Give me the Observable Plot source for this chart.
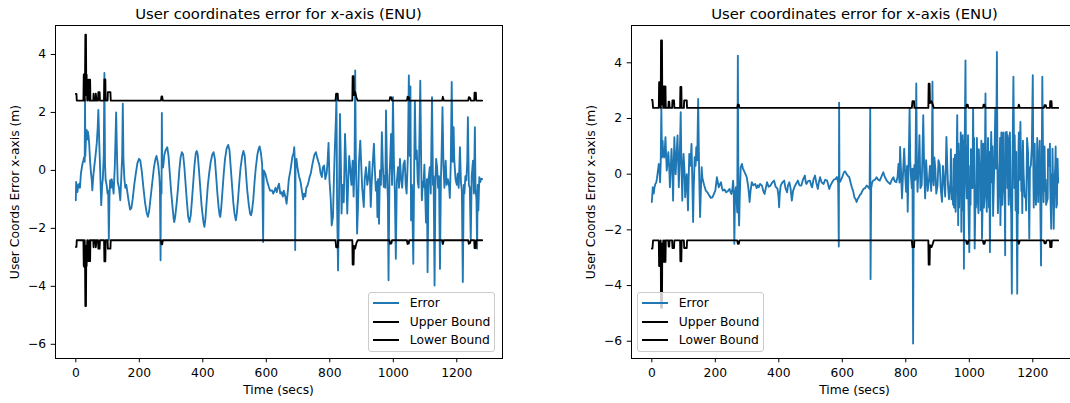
<!DOCTYPE html>
<html><head><meta charset="utf-8">
<script src="https://cdn.jsdelivr.net/npm/d3@7"></script>
<script src="https://cdn.jsdelivr.net/npm/@observablehq/plot@0.6"></script>
<style>
html,body{margin:0;padding:0;background:#fff;overflow:hidden;}
#fig{position:relative;width:1070px;height:403px;overflow:hidden;font-family:"DejaVu Sans",sans-serif;color:#000;background:#fff;}
#fig svg{position:absolute;top:0;}
.abs{position:absolute;white-space:nowrap;line-height:1;}
.title{font-size:14.8px;transform:translate(-50%,-50%);}
.lab{font-size:12.3px;transform:translate(-50%,-50%);}
.ylab{font-size:12.3px;transform:translate(-50%,-50%) rotate(-90deg);}
.legend{position:absolute;box-sizing:border-box;border:1px solid #ccc;border-radius:3px;background:rgba(255,255,255,0.8);}
.legline{position:absolute;height:1.85px;width:26px;}
.legtext{position:absolute;font-size:12.3px;line-height:1;white-space:nowrap;transform:translateY(-50%);}
</style>
</head><body><div id="fig"></div>
<script>
const xTicks = [0,200,400,600,800,1000,1200];
const yTicks = [-6,-4,-2,0,2,4];
const seriesNames = ["Error","Upper Bound","Lower Bound"];
const seriesColors = ["#1f77b4","#000000","#000000"];
const titleText = "User coordinates error for x-axis (ENU)";
const xLabel = "Time (secs)";
const yLabel = "User Coords Error x-axis (m)";

// [time (s), value (m)]
const leftError = [[0,-1.03],[1,-0.4],[3,-0.55],[5,-0.75],[8,-0.5],[11,-0.46],[13,-0.6],[16,-0.11],[19,0.1],[21,0.23],[24,0.35],[26,0.46],[28,0.3],[29,2.45],[30,0.5],[32,1.1],[34,1.4],[36,1.06],[38,1.34],[40,1.2],[42,0.94],[45,0.3],[48,-0.11],[50,-0.3],[52,-0.69],[55,-0.2],[58,0.11],[62,0.5],[66,0.94],[69,1.5],[71,2.09],[74,0.9],[77,-0.11],[80,-1.2],[83,-0.5],[85,-0.3],[88,0.5],[90,3.36],[92,0.2],[94,-0.34],[97,-0.5],[100,-0.8],[102,-0.7],[104,-2.4],[106,-0.9],[108,-0.34],[111,-0.6],[113,-0.3],[116,-0.5],[119,-0.8],[123,0.2],[127,2.0],[130,0.4],[132,-0.4],[136,-0.6],[140,-1.03],[143,-0.3],[146,0.5],[148,2.3],[150,0.4],[153,-0.3],[156,-0.6],[159,-0.5],[163,-0.8],[167,-1.1],[171,-1.35],[175,-1.3],[179,-1.0],[184,-0.5],[189,-0.1],[194,0.25],[199,0.4],[203,0.35],[208,-0.05],[213,-0.6],[218,-1.1],[223,-1.45],[227,-1.6],[231,-1.4],[236,-0.9],[241,-0.4],[246,0.1],[251,0.4],[254,0.5],[257,0.35],[260,0.15],[263,-0.2],[265,-0.6],[267,-3.1],[268,-0.4],[270,-0.8],[271,1.98],[272,0.3],[275,0.1],[279,0.55],[283,0.7],[288,0.8],[292,0.5],[296,-0.1],[300,-0.7],[305,-1.3],[308,-1.65],[310,-1.78],[313,-1.6],[317,-1.2],[322,-0.6],[326,0],[330,0.45],[334,0.63],[338,0.55],[342,0.1],[346,-0.5],[350,-1.1],[354,-1.6],[358,-1.78],[362,-1.55],[366,-1.0],[370,-0.4],[374,0.2],[378,0.6],[381,0.67],[384,0.55],[388,0.0],[392,-0.6],[396,-1.2],[400,-1.6],[403,-1.85],[405,-1.95],[408,-1.7],[412,-1.1],[416,-0.5],[420,-0.1],[425,0.3],[430,0.55],[434,0.63],[438,0.4],[442,-0.2],[446,-0.8],[450,-1.3],[453,-1.55],[455,-1.6],[458,-1.3],[462,-0.7],[466,-0.1],[470,0.4],[475,0.75],[480,0.88],[484,0.7],[488,0.1],[492,-0.5],[496,-1.1],[500,-1.5],[504,-1.72],[507,-1.5],[511,-1.0],[515,-0.4],[519,0.1],[524,0.5],[528,0.67],[532,0.5],[536,-0.1],[540,-0.7],[545,-1.2],[549,-1.5],[552,-1.55],[555,-1.4],[559,-1.0],[563,-0.4],[567,0.1],[572,0.55],[576,0.75],[579,0.83],[583,0.6],[587,0.2],[590,-2.47],[592,0.0],[597,-0.11],[602,-0.35],[608,-0.57],[612,-0.7],[618,-0.69],[622,-0.8],[626,-0.7],[629,-0.6],[633,-0.75],[637,-0.55],[640,-0.46],[644,-0.8],[648,-0.75],[652,-0.9],[655,-0.7],[660,-0.9],[664,-1.15],[668,-0.7],[671,-0.3],[676,0.0],[682,0.46],[686,0.6],[688,0.8],[690,0.3],[691,-2.75],[692,0.2],[695,0.4],[698,0.1],[703,-0.2],[708,-0.4],[712,-0.7],[716,-1.0],[719,-0.8],[723,-0.9],[726,-0.6],[729,-0.55],[733,-0.4],[737,-0.2],[740,-0.11],[745,0.2],[751,0.52],[756,0.63],[760,0.45],[764,0.3],[767,0.2],[771,-0.1],[775,-0.23],[778,0.1],[782,0.17],[786,-0.3],[790,-0.1],[793,0.3],[796,0.95],[799,-0.34],[803,-1.0],[806,-1.9],[810,-1.6],[813,-0.3],[816,0.8],[819,1.7],[821,2.53],[823,-1.2],[826,-3.45],[829,-1.0],[832,1.95],[835,0.2],[837,-1.49],[840,-0.5],[844,-1.1],[848,1.26],[851,0.3],[855,-1.49],[858,-0.4],[861,0.5],[864,0.11],[868,-0.5],[872,0.34],[875,-0.9],[878,0.2],[880,3.45],[882,0.5],[884,-0.6],[886,-2.18],[889,-1.2],[892,0.3],[896,1.03],[899,0.2],[902,-0.6],[907,-1.26],[910,-0.3],[914,0.11],[918,-0.5],[922,-0.2],[925,0.3],[929,-1.26],[932,-0.4],[935,0.2],[939,0.92],[942,0.0],[945,-0.7],[948,-0.4],[950,-1.61],[952,-0.3],[955,-1.84],[958,0.0],[961,-0.5],[964,1.32],[967,0.2],[970,-0.57],[972,-0.2],[975,-0.6],[977,2.07],[980,0.1],[983,-1.0],[985,-3.79],[988,-0.2],[990,0.3],[993,1.26],[996,-0.5],[999,2.53],[1002,0.3],[1005,-0.8],[1008,-3.05],[1011,-0.4],[1015,0.11],[1018,-0.6],[1021,0.4],[1025,-0.34],[1028,-0.6],[1032,0.2],[1036,0.34],[1039,-0.5],[1042,-0.8],[1046,0.5],[1049,3.28],[1052,0.5],[1054,2.9],[1056,-1.72],[1059,-0.5],[1063,-3.22],[1066,0.2],[1068,2.41],[1071,0.4],[1074,0.69],[1077,-0.4],[1080,-0.6],[1085,3.1],[1088,0.1],[1090,-1.03],[1093,-0.4],[1095,-0.57],[1098,0.2],[1100,-0.6],[1103,-1.8],[1106,-0.3],[1108,-3.51],[1111,-0.3],[1115,0.11],[1118,-0.8],[1122,2.53],[1125,-0.5],[1127,-0.2],[1130,-3.97],[1133,-0.3],[1135,0.4],[1138,0.11],[1141,-0.6],[1144,-0.2],[1147,-3.4],[1150,-0.3],[1152,0.5],[1155,2.18],[1158,0.2],[1161,-0.6],[1165,0.34],[1168,-0.5],[1172,-0.3],[1176,-0.57],[1178,-0.95],[1181,0.2],[1184,3.05],[1187,0.3],[1190,1.49],[1192,0.4],[1196,-0.3],[1200,-0.5],[1203,-0.11],[1206,-0.6],[1210,0.8],[1213,-0.4],[1216,-0.7],[1219,-3.85],[1222,-0.5],[1224,-0.8],[1227,-0.2],[1230,-0.34],[1233,0.3],[1235,1.84],[1238,-0.5],[1241,-0.6],[1244,-2.41],[1247,-0.2],[1251,0.34],[1254,-0.8],[1257,1.49],[1259,-0.6],[1262,-1.03],[1264,-2.7],[1266,-0.5],[1268,-1.38],[1271,-0.23],[1274,-0.4],[1277,-0.29],[1280,-0.3]];

const leftUpper = [[0,2.64],[2,2.64],[3,2.41],[24,2.41],[25,3.3],[27,3.33],[28,2.41],[29,3.0],[30,4.68],[32,4.68],[33,2.6],[34,3.3],[36,2.41],[37,3.13],[39,2.6],[40,3.13],[42,2.41],[43,3.13],[45,3.13],[46,2.41],[55,2.41],[56,2.65],[57,2.41],[62,2.41],[63,2.65],[65,2.41],[70,2.41],[71,2.7],[75,2.7],[76,2.41],[89,2.41],[90,3.14],[93,3.14],[94,2.41],[100,2.41],[101,2.7],[109,2.7],[110,2.41],[268,2.41],[270,2.55],[272,2.55],[274,2.41],[818,2.41],[820,2.65],[825,2.65],[826,2.41],[871,2.41],[872,3.25],[875,3.25],[876,2.6],[880,2.7],[884,2.5],[888,2.41],[988,2.41],[990,2.53],[994,2.52],[996,2.41],[1043,2.41],[1045,2.54],[1049,2.52],[1050,2.41],[1154,2.41],[1156,2.54],[1159,2.41],[1236,2.41],[1238,2.53],[1242,2.5],[1244,2.41],[1255,2.41],[1256,2.68],[1260,2.68],[1261,2.41],[1280,2.41]];

const leftLower = [[0,-2.64],[2,-2.64],[3,-2.41],[24,-2.41],[25,-3.3],[27,-3.33],[28,-2.41],[29,-3.0],[30,-4.68],[32,-4.68],[33,-2.6],[34,-3.3],[36,-2.41],[37,-3.13],[39,-2.6],[40,-3.13],[42,-2.41],[43,-3.13],[45,-3.13],[46,-2.41],[55,-2.41],[56,-2.65],[57,-2.41],[62,-2.41],[63,-2.65],[65,-2.41],[70,-2.41],[71,-2.7],[75,-2.7],[76,-2.41],[89,-2.41],[90,-3.14],[93,-3.14],[94,-2.41],[100,-2.41],[101,-2.7],[109,-2.7],[110,-2.41],[268,-2.41],[270,-2.55],[272,-2.55],[274,-2.41],[818,-2.41],[820,-2.65],[825,-2.65],[826,-2.41],[871,-2.41],[872,-3.25],[875,-3.25],[876,-2.6],[880,-2.7],[884,-2.5],[888,-2.41],[988,-2.41],[990,-2.53],[994,-2.52],[996,-2.41],[1043,-2.41],[1045,-2.54],[1049,-2.52],[1050,-2.41],[1154,-2.41],[1156,-2.54],[1159,-2.41],[1236,-2.41],[1238,-2.53],[1242,-2.5],[1244,-2.41],[1255,-2.41],[1256,-2.68],[1260,-2.68],[1261,-2.41],[1280,-2.41]];

const rightError = [[0,-1.0],[3,-0.47],[6,-0.7],[8,-0.5],[11,-0.35],[14,-0.3],[16,-0.17],[19,0.1],[22,0.37],[24,0.2],[26,-0.29],[28,0.4],[30,2.4],[32,0.6],[34,1.2],[36,0.7],[39,0.6],[41,0.9],[43,1.33],[45,0.7],[47,0.13],[50,0.5],[52,0.79],[55,0.2],[57,-0.47],[60,0.3],[62,0.91],[65,0.1],[67,-0.95],[69,0.3],[71,1.33],[73,0.6],[75,0],[78,0.7],[81,1.39],[83,0.5],[85,-0.47],[88,0.6],[91,2.23],[93,0.5],[96,-0.95],[98,0.2],[100,0.73],[103,0.1],[105,-0.83],[108,-0.2],[110,0],[112,-0.6],[114,-1.3],[116,-0.2],[118,0.73],[121,0.3],[123,0.6],[125,1.09],[127,0.1],[130,-1.72],[132,-0.5],[135,0.61],[138,0.3],[140,0.97],[143,0.5],[146,2.7],[149,0.1],[152,-1.54],[155,-0.4],[157,0.25],[159,-0.1],[161,-0.23],[165,-0.4],[170,-0.59],[175,-0.65],[181,-0.77],[186,-0.85],[191,-0.83],[196,-0.7],[200,-0.59],[203,-0.3],[205,-0.11],[208,-0.3],[211,-0.47],[215,-0.35],[218,-0.29],[221,-0.5],[224,-0.59],[229,-0.55],[234,-0.65],[240,-0.6],[245,-0.53],[248,-0.65],[251,-0.71],[254,-0.5],[256,-0.23],[258,-0.6],[260,-2.5],[262,-0.8],[265,-0.47],[267,-0.9],[269,-1.37],[271,4.26],[273,-1.19],[275,-1.84],[277,-0.8],[280,0.25],[284,0.37],[287,0.2],[290,0.13],[295,0.0],[299,-0.11],[303,-0.4],[306,-0.7],[308,-1.0],[311,-0.6],[315,-0.29],[320,-0.4],[326,-0.35],[330,-0.5],[334,-0.4],[337,-0.47],[341,-0.35],[347,-0.41],[351,-0.6],[355,-0.71],[359,-0.5],[363,-0.29],[368,-0.45],[374,-0.41],[379,-0.3],[385,-0.23],[390,-0.45],[396,-0.53],[399,-0.8],[401,-1.19],[403,-0.7],[406,-0.41],[411,-0.3],[417,-0.23],[421,-0.5],[426,-0.65],[429,-0.4],[433,-0.29],[437,-0.5],[441,-0.95],[445,-0.6],[449,-0.47],[454,-0.35],[460,-0.23],[465,-0.4],[471,-0.41],[476,-0.2],[482,-0.05],[485,-0.3],[487,-0.35],[492,-0.25],[498,-0.23],[502,-0.4],[505,-0.47],[509,-0.2],[514,-0.05],[518,-0.3],[523,-0.53],[526,-0.3],[530,-0.11],[535,-0.3],[541,-0.35],[546,-0.2],[552,-0.23],[556,-0.4],[559,-0.53],[563,-0.4],[568,-0.29],[573,-0.2],[579,-0.17],[583,-0.1],[587,-0.29],[589,-2.6],[590,2.57],[591,-0.3],[595,-0.23],[600,-0.1],[605,0.07],[609,0.1],[613,0.01],[617,-0.05],[622,-0.11],[626,-0.3],[630,-0.47],[634,-0.6],[638,-0.83],[642,-0.9],[645,-1.0],[648,-0.9],[652,-0.83],[655,-0.75],[659,-0.71],[663,-0.6],[667,-0.53],[672,-0.5],[677,-0.41],[681,-0.45],[686,-0.53],[688,2.39],[689,-3.77],[691,-0.5],[694,-0.3],[697,-0.23],[703,-0.2],[708,-0.11],[713,-0.2],[718,-0.23],[723,-0.1],[729,0.07],[734,-0.1],[740,-0.23],[745,-0.3],[751,-0.35],[756,-0.2],[761,-0.11],[765,-0.25],[770,-0.29],[774,-0.1],[777,0.37],[780,-0.3],[782,0.98],[785,0.1],[788,-0.87],[792,0.2],[795,0.92],[798,0.0],[801,-0.63],[804,0.3],[806,-1.35],[809,0.4],[812,2.36],[814,0.5],[816,-0.04],[819,-0.5],[821,0.2],[823,-6.08],[825,-0.3],[827,0.32],[830,-0.2],[833,3.26],[835,0.3],[837,-0.63],[840,0.2],[843,1.4],[846,-0.5],[850,-0.39],[852,0.5],[855,2.12],[858,0.1],[861,-0.87],[864,0.5],[866,0.08],[869,-0.6],[873,-0.2],[876,0.3],[880,-0.6],[882,0.4],[884,3.32],[886,-0.2],[888,-0.4],[890,0.6],[893,0.2],[896,-0.7],[900,-0.4],[903,0.5],[907,0.32],[910,-0.5],[914,-0.99],[917,0.3],[921,-0.3],[924,-0.8],[928,1.34],[931,0.2],[933,-0.4],[936,-0.9],[941,-0.2],[942,0.9],[943,0.4],[944,-0.9],[946,-0.5],[949,-1.1],[951,0.56],[952,-1.2],[954,-0.3],[955,0.7],[957,-1.35],[960,0.3],[962,2.12],[964,-0.4],[965,-1.83],[966,1.1],[967,0.6],[968,-1.2],[970,0.8],[972,-0.5],[973,1.5],[975,-2.07],[977,0.2],[978,-1.3],[979,1.4],[981,-0.6],[982,1.2],[983,-3.4],[985,0.5],[988,4.09],[990,-0.2],[992,-0.87],[994,1.0],[995,0.5],[996,1.4],[997,-0.8],[1000,-2.8],[1003,0.3],[1004,-1.1],[1005,0.9],[1007,0.5],[1010,-0.5],[1012,2.36],[1014,-0.3],[1015,1.3],[1017,-2.67],[1020,-0.4],[1021,-1.2],[1023,0.5],[1024,1.3],[1026,-0.8],[1029,-1.4],[1030,0.9],[1032,0.2],[1035,-0.04],[1036,-1.3],[1038,1.2],[1040,-2.31],[1043,-0.5],[1044,1.1],[1045,0.3],[1046,-1.2],[1048,-0.8],[1051,2.9],[1053,-0.4],[1055,-1.35],[1058,0.5],[1059,1.3],[1061,-0.39],[1062,-1.2],[1063,0.8],[1065,-2.8],[1067,0.2],[1069,1.52],[1072,-0.3],[1073,1.0],[1075,-1.5],[1076,-0.99],[1079,0.4],[1082,2.36],[1084,0.2],[1085,1.2],[1087,4.39],[1089,-0.3],[1090,-1.4],[1093,-0.39],[1096,0.5],[1097,1.3],[1098,-1.83],[1100,-0.4],[1101,1.5],[1103,0.8],[1104,-1.1],[1106,-0.5],[1107,1.5],[1109,-0.63],[1111,0.5],[1113,-2.91],[1114,1.5],[1116,0.3],[1118,1.52],[1120,-0.5],[1121,1.4],[1123,-0.04],[1124,-1.1],[1125,1.3],[1127,0.62],[1128,1.5],[1130,-0.8],[1132,-1.4],[1134,-4.29],[1136,0.3],[1139,3.5],[1142,-0.5],[1143,1.4],[1145,-0.04],[1146,-1.3],[1148,0.8],[1151,-4.29],[1153,-0.3],[1154,-1.4],[1155,0.92],[1156,1.5],[1158,-0.2],[1161,1.88],[1164,-0.6],[1166,-0.63],[1167,-1.4],[1168,0.5],[1169,1.2],[1171,0.08],[1174,-0.8],[1178,-0.87],[1179,-1.3],[1181,0.3],[1182,1.3],[1185,0.8],[1187,-0.5],[1189,-2.31],[1191,0.2],[1194,0.32],[1197,1.0],[1200,3.56],[1202,-0.2],[1203,-1.2],[1205,0.2],[1206,1.1],[1208,-0.5],[1210,-1.1],[1213,0.3],[1214,1.3],[1216,-0.04],[1217,-1.0],[1219,0.5],[1221,0.92],[1222,1.2],[1223,-0.4],[1226,-3.28],[1228,0.0],[1230,3.5],[1233,-0.2],[1234,-1.0],[1236,0.2],[1237,1.0],[1239,-0.6],[1241,-0.2],[1242,-1.1],[1244,-1.0],[1247,-0.87],[1248,0.9],[1250,0.3],[1253,0.56],[1254,1.1],[1255,-0.5],[1258,-1.96],[1260,0.0],[1261,-1.0],[1262,0.92],[1264,-0.4],[1266,-1.96],[1268,-0.3],[1271,0.32],[1272,1.0],[1273,-0.5],[1274,-1.2],[1276,-1.1],[1278,0.56],[1280,-0.3]];

const rightUpper = [[0,2.67],[2,2.67],[4,2.38],[22,2.38],[23,3.3],[27,3.3],[28,2.38],[29,4.8],[32,4.8],[33,2.5],[34,3.15],[36,2.38],[37,3.15],[40,3.15],[41,2.38],[43,3.15],[44,2.38],[52,2.38],[53,2.6],[55,2.6],[56,2.38],[64,2.38],[65,2.65],[70,2.65],[71,2.38],[89,2.38],[90,3.13],[93,3.13],[94,2.38],[101,2.38],[102,2.65],[110,2.65],[111,2.38],[269,2.38],[271,2.5],[274,2.5],[276,2.38],[819,2.38],[821,2.62],[826,2.62],[827,2.38],[871,2.38],[872,3.25],[875,3.25],[876,2.55],[881,2.62],[885,2.5],[888,2.38],[990,2.38],[992,2.5],[995,2.5],[997,2.38],[1043,2.38],[1045,2.5],[1048,2.5],[1050,2.38],[1154,2.38],[1156,2.5],[1159,2.38],[1235,2.38],[1237,2.48],[1241,2.48],[1243,2.38],[1254,2.38],[1255,2.62],[1259,2.62],[1260,2.38],[1280,2.38]];

const rightLower = [[0,-2.67],[2,-2.67],[4,-2.38],[22,-2.38],[23,-3.3],[27,-3.3],[28,-2.38],[29,-4.8],[32,-4.8],[33,-2.5],[34,-3.15],[36,-2.38],[37,-3.15],[40,-3.15],[41,-2.38],[43,-3.15],[44,-2.38],[52,-2.38],[53,-2.6],[55,-2.6],[56,-2.38],[64,-2.38],[65,-2.65],[70,-2.65],[71,-2.38],[89,-2.38],[90,-3.13],[93,-3.13],[94,-2.38],[101,-2.38],[102,-2.65],[110,-2.65],[111,-2.38],[269,-2.38],[271,-2.5],[274,-2.5],[276,-2.38],[819,-2.38],[821,-2.62],[826,-2.62],[827,-2.38],[871,-2.38],[872,-3.25],[875,-3.25],[876,-2.55],[881,-2.62],[885,-2.5],[888,-2.38],[990,-2.38],[992,-2.5],[995,-2.5],[997,-2.38],[1043,-2.38],[1045,-2.5],[1048,-2.5],[1050,-2.38],[1154,-2.38],[1156,-2.5],[1159,-2.38],[1235,-2.38],[1237,-2.48],[1241,-2.48],[1243,-2.38],[1254,-2.38],[1255,-2.62],[1259,-2.62],[1260,-2.38],[1280,-2.38]];

const fig = document.getElementById("fig");
const rows = a => a.map(([t, v]) => ({t, v})).sort((p, q) => p.t - q.t);
const fmtY = d => (d < 0 ? "\u2212" : "") + Math.abs(d);

function addDiv(cls, text, left, top) {
  const d = document.createElement("div");
  d.className = "abs " + cls;
  d.textContent = text;
  d.style.left = left + "px";
  d.style.top = top + "px";
  fig.appendChild(d);
  return d;
}

function panel(cfg) {
  const svg = Plot.plot({
    width: cfg.width, height: 403,
    marginLeft: cfg.ml, marginRight: cfg.mr, marginTop: 25, marginBottom: 45,
    style: {fontFamily: '"DejaVu Sans", sans-serif', fontSize: "12.3px", color: "#000", background: "transparent", overflow: "visible"},
    x: {domain: [-64, 1344]},
    y: {domain: cfg.yDomain},
    marks: [
      Plot.line(rows(cfg.error), {x: "t", y: "v", stroke: seriesColors[0], strokeWidth: 1.85}),
      Plot.line(rows(cfg.upper), {x: "t", y: "v", stroke: seriesColors[1], strokeWidth: 1.85}),
      Plot.line(rows(cfg.lower), {x: "t", y: "v", stroke: seriesColors[2], strokeWidth: 1.85}),
      Plot.frame({stroke: "#000", strokeWidth: 1}),
      Plot.axisX(xTicks, {tickSize: 4.3, tickPadding: 5, tickFormat: d => String(d), label: null}),
      Plot.axisY(yTicks, {tickSize: 4.3, tickPadding: 5, tickFormat: fmtY, label: null})
    ]
  });
  svg.style.left = cfg.left + "px";
  fig.appendChild(svg);
  addDiv("title", titleText, cfg.titleX, 13.5);
  addDiv("lab", xLabel, cfg.titleX, 390);
  addDiv("ylab", yLabel, cfg.yLabX, 192);
  const lg = document.createElement("div");
  lg.className = "legend";
  lg.style.left = cfg.legX + "px"; lg.style.top = "291.7px";
  lg.style.width = "127px"; lg.style.height = "60px";
  const rowY = [10.6, 29.1, 47.6];
  seriesNames.forEach((name, i) => {
    const ln = document.createElement("div");
    ln.className = "legline";
    ln.style.background = seriesColors[i];
    ln.style.left = "4px"; ln.style.top = (rowY[i] - 1) + "px";
    lg.appendChild(ln);
    const tx = document.createElement("div");
    tx.className = "legtext";
    tx.textContent = name;
    tx.style.left = "40.5px"; tx.style.top = rowY[i] + "px";
    lg.appendChild(tx);
  });
  fig.appendChild(lg);
}

panel({left: 0, width: 535, ml: 55, mr: 33, yDomain: [-6.49, 5.0], error: leftError, upper: leftUpper, lower: leftLower, titleX: 278.5, yLabX: 15.4, legX: 368.3});
panel({left: 535, width: 545, ml: 96, mr: 2, yDomain: [-6.62, 5.34], error: rightError, upper: rightUpper, lower: rightLower, titleX: 854.5, yLabX: 591.3, legX: 637.3});
</script>
</body></html>
